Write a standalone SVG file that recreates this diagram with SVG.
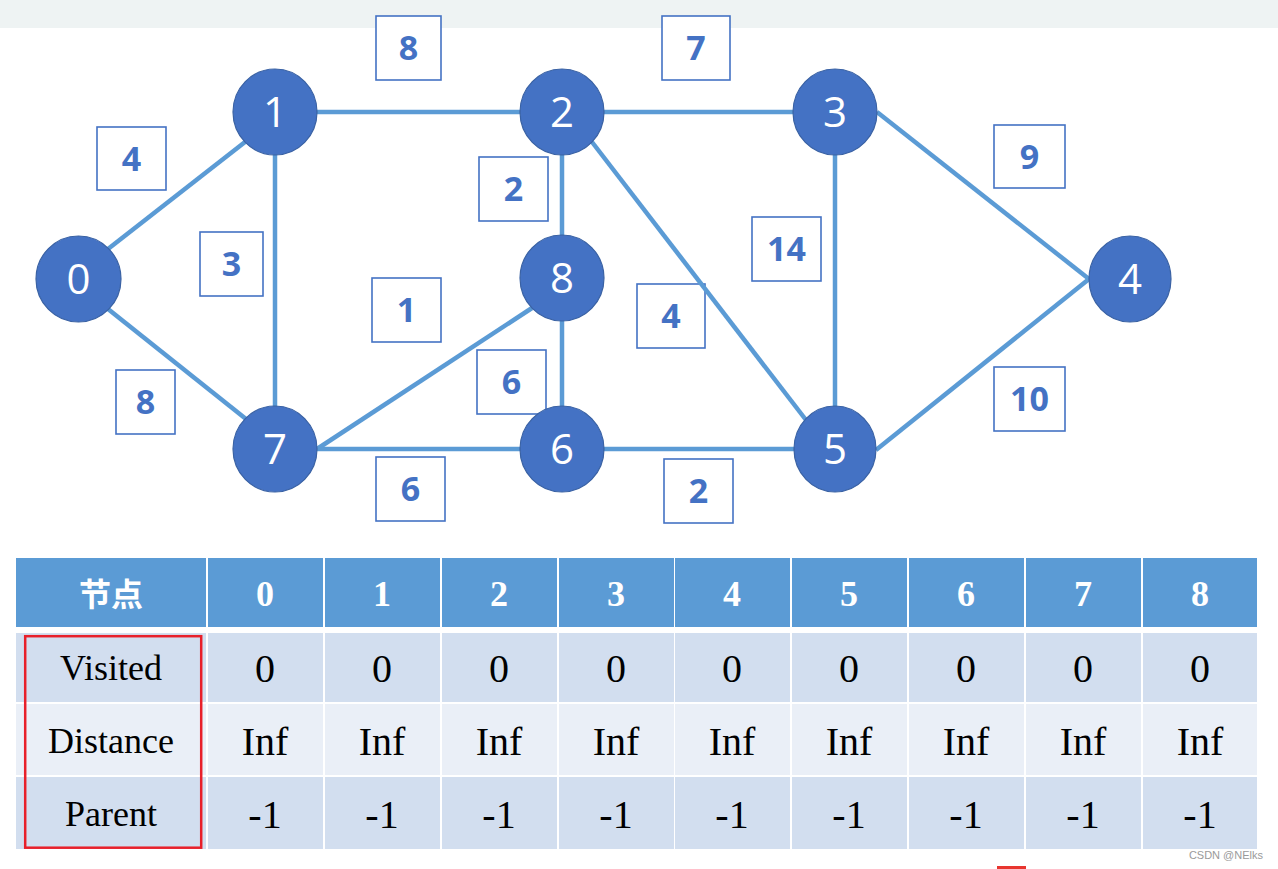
<svg xmlns="http://www.w3.org/2000/svg" width="1278" height="869" viewBox="0 0 1278 869">
<style>
.edge{stroke:#5b9bd5;stroke-width:4.5;fill:none;stroke-linecap:butt}
.node{fill:#4472c4;stroke:#3a62a4;stroke-width:1.2}
.nt{font-family:"Open Sans","Liberation Sans",sans-serif;font-size:42px;fill:#ffffff;text-anchor:middle}
.lb{fill:#ffffff;stroke:#4472c4;stroke-width:1.6}
.lt{font-family:"Open Sans","Liberation Sans",sans-serif;font-weight:700;font-size:34px;fill:#4472c4;text-anchor:middle}
.hd{fill:#5b9bd5}
.r1{fill:#d2deef}
.r2{fill:#eaeff7}
.ht{font-family:"Liberation Serif","Times New Roman",serif;font-weight:700;font-size:36px;fill:#ffffff;text-anchor:middle}
.hc{font-family:"Noto Sans CJK SC",sans-serif;font-weight:700;font-size:32px;fill:#ffffff;text-anchor:middle}
.rl{font-family:"Liberation Serif","Times New Roman",serif;font-size:36px;fill:#000000;text-anchor:middle}
.dt{font-family:"Liberation Serif","Times New Roman",serif;font-size:40px;fill:#000000;text-anchor:middle}
</style>
<rect x="0" y="0" width="1278" height="869" fill="#ffffff"/>
<rect x="0" y="0" width="1278" height="28" fill="#eef3f3"/>

<g id="labels">
<rect class="lb" x="376" y="16" width="65" height="64"/><text class="lt" x="408.5" y="60">8</text>
<rect class="lb" x="662" y="16" width="68" height="64"/><text class="lt" x="696" y="60">7</text>
<rect class="lb" x="97" y="127" width="69" height="63"/><text class="lt" x="131.5" y="171">4</text>
<rect class="lb" x="994" y="125" width="71" height="63"/><text class="lt" x="1029.5" y="169">9</text>
<rect class="lb" x="200" y="232" width="63" height="64"/><text class="lt" x="231.5" y="276">3</text>
<rect class="lb" x="479" y="157" width="69" height="64"/><text class="lt" x="513.5" y="201">2</text>
<rect class="lb" x="752" y="217" width="69" height="64"/><text class="lt" x="786.5" y="261">14</text>
<rect class="lb" x="372" y="278" width="69" height="64"/><text class="lt" x="406.5" y="322">1</text>
<rect class="lb" x="637" y="284" width="68" height="64"/><text class="lt" x="671" y="328">4</text>
<rect class="lb" x="477" y="350" width="69" height="64"/><text class="lt" x="511.5" y="394">6</text>
<rect class="lb" x="116" y="370" width="59" height="64"/><text class="lt" x="145.5" y="414">8</text>
<rect class="lb" x="994" y="367" width="71" height="64"/><text class="lt" x="1029.5" y="411">10</text>
<rect class="lb" x="376" y="457" width="69" height="64"/><text class="lt" x="410.5" y="501">6</text>
<rect class="lb" x="664" y="459" width="69" height="64"/><text class="lt" x="698.5" y="503">2</text>
</g>

<g id="connectors">
<line class="edge" x1="108" y1="249" x2="245" y2="142"/>
<line class="edge" x1="108" y1="309" x2="246" y2="419"/>
<line class="edge" x1="300" y1="112" x2="540" y2="112"/>
<line class="edge" x1="275" y1="140" x2="275" y2="425"/>
<line class="edge" x1="590" y1="112" x2="810" y2="112"/>
<line class="edge" x1="562" y1="140" x2="562" y2="250"/>
<line class="edge" x1="592" y1="142" x2="806" y2="420"/>
<line class="edge" x1="877" y1="112" x2="1089" y2="279"/>
<line class="edge" x1="835" y1="140" x2="835" y2="425"/>
<line class="edge" x1="1089" y1="279" x2="876" y2="450"/>
<line class="edge" x1="317" y1="449" x2="532" y2="308"/>
<line class="edge" x1="300" y1="449" x2="540" y2="449"/>
<line class="edge" x1="562" y1="300" x2="562" y2="425"/>
<line class="edge" x1="590" y1="449" x2="810" y2="449"/>
</g>

<g id="node0"><ellipse class="node" cx="78.5" cy="279" rx="42.5" ry="43"/><text class="nt" x="78.5" y="294">0</text></g>
<g id="node1"><ellipse class="node" cx="275" cy="112" rx="42" ry="43"/><text class="nt" x="275" y="127">1</text></g>
<g id="node2"><ellipse class="node" cx="562" cy="112" rx="42" ry="43"/><text class="nt" x="562" y="127">2</text></g>
<g id="node3"><ellipse class="node" cx="835" cy="112" rx="42" ry="43"/><text class="nt" x="835" y="127">3</text></g>
<g id="node4"><ellipse class="node" cx="1130" cy="279" rx="41" ry="43"/><text class="nt" x="1130" y="294">4</text></g>
<g id="node5"><ellipse class="node" cx="835" cy="449" rx="41" ry="43"/><text class="nt" x="835" y="464">5</text></g>
<g id="node6"><ellipse class="node" cx="562" cy="449" rx="42" ry="43"/><text class="nt" x="562" y="464">6</text></g>
<g id="node7"><ellipse class="node" cx="275" cy="449" rx="42" ry="43"/><text class="nt" x="275" y="464">7</text></g>
<g id="node8"><ellipse class="node" cx="562" cy="278" rx="42" ry="43"/><text class="nt" x="562" y="293">8</text></g>

<g id="table">
<rect class="hd" x="16" y="558" width="190" height="69"/>
<rect class="r1" x="16" y="633" width="190" height="69"/>
<rect class="r2" x="16" y="704" width="190" height="71"/>
<rect class="r1" x="16" y="777" width="190" height="72"/>
<text class="hc" x="111" y="606">节点</text>
<text class="rl" x="111" y="680">Visited</text>
<text class="rl" x="111" y="753">Distance</text>
<text class="rl" x="111" y="826">Parent</text>

<rect class="hd" x="208" y="558" width="115" height="69"/><rect class="r1" x="208" y="633" width="115" height="69"/><rect class="r2" x="208" y="704" width="115" height="71"/><rect class="r1" x="208" y="777" width="115" height="72"/>
<rect class="hd" x="325" y="558" width="115" height="69"/><rect class="r1" x="325" y="633" width="115" height="69"/><rect class="r2" x="325" y="704" width="115" height="71"/><rect class="r1" x="325" y="777" width="115" height="72"/>
<rect class="hd" x="442" y="558" width="115" height="69"/><rect class="r1" x="442" y="633" width="115" height="69"/><rect class="r2" x="442" y="704" width="115" height="71"/><rect class="r1" x="442" y="777" width="115" height="72"/>
<rect class="hd" x="559" y="558" width="115" height="69"/><rect class="r1" x="559" y="633" width="115" height="69"/><rect class="r2" x="559" y="704" width="115" height="71"/><rect class="r1" x="559" y="777" width="115" height="72"/>
<rect class="hd" x="675" y="558" width="115" height="69"/><rect class="r1" x="675" y="633" width="115" height="69"/><rect class="r2" x="675" y="704" width="115" height="71"/><rect class="r1" x="675" y="777" width="115" height="72"/>
<rect class="hd" x="792" y="558" width="115" height="69"/><rect class="r1" x="792" y="633" width="115" height="69"/><rect class="r2" x="792" y="704" width="115" height="71"/><rect class="r1" x="792" y="777" width="115" height="72"/>
<rect class="hd" x="909" y="558" width="115" height="69"/><rect class="r1" x="909" y="633" width="115" height="69"/><rect class="r2" x="909" y="704" width="115" height="71"/><rect class="r1" x="909" y="777" width="115" height="72"/>
<rect class="hd" x="1026" y="558" width="115" height="69"/><rect class="r1" x="1026" y="633" width="115" height="69"/><rect class="r2" x="1026" y="704" width="115" height="71"/><rect class="r1" x="1026" y="777" width="115" height="72"/>
<rect class="hd" x="1143" y="558" width="114" height="69"/><rect class="r1" x="1143" y="633" width="114" height="69"/><rect class="r2" x="1143" y="704" width="114" height="71"/><rect class="r1" x="1143" y="777" width="114" height="72"/>

<text class="ht" x="265" y="606">0</text>
<text class="ht" x="382" y="606">1</text>
<text class="ht" x="499" y="606">2</text>
<text class="ht" x="616" y="606">3</text>
<text class="ht" x="732" y="606">4</text>
<text class="ht" x="849" y="606">5</text>
<text class="ht" x="966" y="606">6</text>
<text class="ht" x="1083" y="606">7</text>
<text class="ht" x="1200" y="606">8</text>

<text class="dt" x="265" y="682">0</text>
<text class="dt" x="382" y="682">0</text>
<text class="dt" x="499" y="682">0</text>
<text class="dt" x="616" y="682">0</text>
<text class="dt" x="732" y="682">0</text>
<text class="dt" x="849" y="682">0</text>
<text class="dt" x="966" y="682">0</text>
<text class="dt" x="1083" y="682">0</text>
<text class="dt" x="1200" y="682">0</text>

<text class="dt" x="265" y="755">Inf</text>
<text class="dt" x="382" y="755">Inf</text>
<text class="dt" x="499" y="755">Inf</text>
<text class="dt" x="616" y="755">Inf</text>
<text class="dt" x="732" y="755">Inf</text>
<text class="dt" x="849" y="755">Inf</text>
<text class="dt" x="966" y="755">Inf</text>
<text class="dt" x="1083" y="755">Inf</text>
<text class="dt" x="1200" y="755">Inf</text>

<text class="dt" x="265" y="828">-1</text>
<text class="dt" x="382" y="828">-1</text>
<text class="dt" x="499" y="828">-1</text>
<text class="dt" x="616" y="828">-1</text>
<text class="dt" x="732" y="828">-1</text>
<text class="dt" x="849" y="828">-1</text>
<text class="dt" x="966" y="828">-1</text>
<text class="dt" x="1083" y="828">-1</text>
<text class="dt" x="1200" y="828">-1</text>

<rect x="25.2" y="636.2" width="176" height="211.5" fill="none" stroke="#e8202a" stroke-width="2.5"/>
</g>

<rect x="997" y="866" width="29" height="3" fill="#e8352f"/>
<text x="1263" y="859" font-family="Liberation Sans, Arial, sans-serif" font-size="11" fill="#9a9a9a" text-anchor="end">CSDN @NElks</text>
</svg>
